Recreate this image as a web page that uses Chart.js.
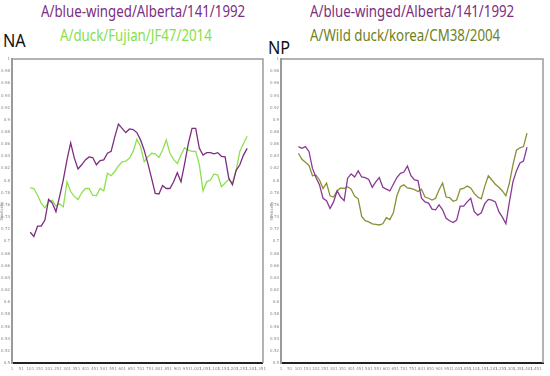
<!DOCTYPE html>
<html>
<head>
<meta charset="utf-8">
<script src="https://cdn.jsdelivr.net/npm/chart.js@4"></script>
<style>
    body { margin: 0; width: 550px; height: 376px; background: #fff; position: relative; overflow: hidden; font-family: "Noto Sans", sans-serif; }
    .label { position: absolute; white-space: nowrap; font-size: 16px; line-height: 16px; transform: scaleX(0.83); transform-origin: left top; }
    .big { font-size: 18px; line-height: 18px; transform: scaleX(0.9); color: #111; }
    .panel { position: absolute; top: 50px; height: 326px; }
</style>
</head>
<body>
<div class="label" style="left:41px; top:3px; color:#7b2d80;">A/blue-winged/Alberta/141/1992</div>
<div class="label" style="left:60px; top:27px; color:#86e04a;">A/duck/Fujian/JF47/2014</div>
<div class="label big" style="left:3px; top:31px;">NA</div>

<div class="label" style="left:310px; top:3px; color:#7b2d80;">A/blue-winged/Alberta/141/1992</div>
<div class="label" style="left:310px; top:27px; color:#6e7f1f;">A/Wild duck/korea/CM38/2004</div>
<div class="label big" style="left:268px; top:38px;">NP</div>

<div class="panel" style="left:0; width:270px;"><canvas id="naChart"></canvas></div>
<div class="panel" style="left:270px; width:280px;"><canvas id="npChart"></canvas></div>

<script>
// Các giá trị
const yTicks = [1, 0.98, 0.96, 0.94, 0.92, 0.9, 0.88, 0.86, 0.84, 0.82, 0.8, 0.78, 0.76, 0.74, 0.72, 0.7,
    0.68, 0.66, 0.64, 0.62, 0.6, 0.58, 0.56, 0.54, 0.52, 0.5];

const naTicks = [1, 51, 101, 151, 201, 251, 301, 351, 401, 451, 501, 551, 601, 651, 701, 751, 801, 851,
    901, 951, 1001, 1051, 1101, 1151, 1201, 1251, 1301, 1351];
const npTicks = [1, 51, 101, 151, 201, 251, 301, 351, 401, 451, 501, 551, 601, 651, 701, 751, 801, 851,
    901, 951, 1001, 1051, 1101, 1151, 1201, 1251, 1301, 1351, 1401, 1451];

// NA
const naPos = [100, 120, 140, 160, 180, 200, 220, 240, 260, 280, 300, 320, 340, 360, 380, 400, 420, 440,
    460, 480, 500, 520, 540, 560, 580, 600, 620, 640, 660, 680, 700, 720, 740, 760, 780, 800, 820, 840,
    860, 880, 900, 920, 940, 960, 980, 1000, 1020, 1040, 1060, 1080, 1100, 1120, 1140, 1160, 1180, 1200,
    1220, 1240, 1260, 1280];
const naAlberta = [0.715, 0.708, 0.725, 0.725, 0.735, 0.769, 0.763, 0.749, 0.774, 0.801,
    0.834, 0.862, 0.837, 0.819, 0.826, 0.834, 0.839, 0.838, 0.826, 0.833,
    0.834, 0.845, 0.848, 0.872, 0.893, 0.886, 0.879, 0.885, 0.884, 0.879,
    0.867, 0.850, 0.828, 0.804, 0.779, 0.778, 0.792, 0.787, 0.787, 0.798,
    0.813, 0.798, 0.828, 0.861, 0.886, 0.886, 0.853, 0.842, 0.846, 0.846,
    0.844, 0.846, 0.840, 0.839, 0.804, 0.793, 0.817, 0.826, 0.842, 0.853];
const naFujian = [0.788, 0.787, 0.776, 0.763, 0.755, 0.765, 0.768, 0.758, 0.762, 0.757,
    0.798, 0.782, 0.774, 0.769, 0.780, 0.787, 0.787, 0.776, 0.775, 0.787,
    0.783, 0.812, 0.808, 0.815, 0.824, 0.831, 0.832, 0.837, 0.848, 0.868,
    0.856, 0.831, 0.839, 0.845, 0.844, 0.838, 0.850, 0.867, 0.845, 0.835,
    0.828, 0.842, 0.854, 0.850, 0.848, 0.848, 0.826, 0.783, 0.798, 0.801,
    0.811, 0.809, 0.790, 0.796, 0.802, 0.796, 0.817, 0.848, 0.861, 0.873];

// NP
const npPos = [100, 120, 140, 160, 180, 200, 220, 240, 260, 280, 300, 320, 340, 360, 380, 400, 420, 440,
    460, 480, 500, 520, 540, 560, 580, 600, 620, 640, 660, 680, 700, 720, 740, 760, 780, 800, 820, 840,
    860, 880, 900, 920, 940, 960, 980, 1000, 1020, 1040, 1060, 1080, 1100, 1120, 1140, 1160, 1180, 1200,
    1220, 1240, 1260, 1280, 1300, 1320, 1340, 1360, 1380, 1400];
const npAlberta = [0.856, 0.853, 0.856, 0.848, 0.820, 0.805, 0.793, 0.771, 0.767, 0.754,
    0.765, 0.783, 0.773, 0.767, 0.804, 0.811, 0.806, 0.816, 0.806, 0.805,
    0.802, 0.789, 0.798, 0.805, 0.789, 0.786, 0.783, 0.794, 0.805, 0.812,
    0.814, 0.824, 0.808, 0.801, 0.800, 0.771, 0.765, 0.763, 0.753, 0.752,
    0.760, 0.752, 0.738, 0.734, 0.731, 0.735, 0.758, 0.758, 0.765, 0.771,
    0.749, 0.743, 0.747, 0.762, 0.769, 0.768, 0.765, 0.749, 0.740, 0.729,
    0.765, 0.798, 0.816, 0.829, 0.832, 0.855];
const npKorea = [0.845, 0.835, 0.830, 0.825, 0.808, 0.809, 0.801, 0.787, 0.796, 0.775,
    0.773, 0.783, 0.788, 0.787, 0.790, 0.786, 0.774, 0.770, 0.741, 0.734,
    0.732, 0.729, 0.728, 0.727, 0.729, 0.739, 0.736, 0.747, 0.775, 0.790,
    0.793, 0.788, 0.787, 0.785, 0.782, 0.786, 0.773, 0.771, 0.768, 0.771,
    0.785, 0.796, 0.773, 0.772, 0.766, 0.768, 0.786, 0.787, 0.791, 0.788,
    0.779, 0.773, 0.770, 0.791, 0.808, 0.801, 0.794, 0.789, 0.783, 0.775,
    0.796, 0.826, 0.850, 0.854, 0.856, 0.878];

// khung xám quanh vùng vẽ
const framePlugin = {
    id: 'frame',
    beforeDatasetsDraw(chart) {
        const a = chart.chartArea;
        const ctx = chart.ctx;
        ctx.save();
        ctx.strokeStyle = '#9a9a9a';
        ctx.lineWidth = 1.5;
        ctx.beginPath();
        ctx.moveTo(a.left, a.top);
        ctx.lineTo(a.right, a.top);
        ctx.lineTo(a.right, a.bottom);
        ctx.stroke();
        ctx.restore();
    }
};

function toPoints(pos, vals) {
    return pos.map((p, i) => ({ x: p, y: vals[i] }));
}

function makeChart(id, datasets, xTicks, xMax, yWidth, padRight) {
    const tickFont = { size: 4, family: 'DejaVu Sans' };
    new Chart(document.getElementById(id), {
        type: 'line',
        data: { datasets: datasets },
        options: {
            responsive: true,
            maintainAspectRatio: false,
            animation: false,
            layout: { padding: { top: 9, right: padRight, left: 0, bottom: 0 } },
            plugins: { legend: { display: false }, tooltip: { enabled: false } },
            elements: { point: { radius: 0 }, line: { borderWidth: 1.3, tension: 0 } },
            scales: {
                x: {
                    type: 'linear', min: 1, max: xMax,
                    grid: { display: false, drawTicks: false },
                    border: { color: '#222', width: 2 },
                    afterBuildTicks: s => { s.ticks = xTicks.map(v => ({ value: v })); },
                    afterFit: s => { s.height = 13; },
                    ticks: { autoSkip: false, maxRotation: 0, color: '#888', font: tickFont, padding: 4 }
                },
                y: {
                    min: 0.5, max: 1,
                    grid: { display: false, drawTicks: false },
                    border: { color: '#9a9a9a', width: 2 },
                    afterBuildTicks: s => { s.ticks = yTicks.map(v => ({ value: v })); },
                    afterFit: s => { s.width = yWidth; },
                    title: { display: true, text: 'Similarity', color: '#888', font: tickFont, padding: 0 },
                    ticks: { autoSkip: false, color: '#888', font: tickFont, padding: 2, callback: v => String(v) }
                }
            }
        },
        plugins: [framePlugin]
    });
}

makeChart('naChart', [
    { data: toPoints(naPos, naAlberta), borderColor: '#7b2d80' },
    { data: toPoints(naPos, naFujian), borderColor: '#8ee04f' }
], naTicks, 1366, 12, 5);

makeChart('npChart', [
    { data: toPoints(npPos, npAlberta), borderColor: '#8a3a95' },
    { data: toPoints(npPos, npKorea), borderColor: '#8a8f35' }
], npTicks, 1491, 11, 7);
</script>
</body>
</html>
